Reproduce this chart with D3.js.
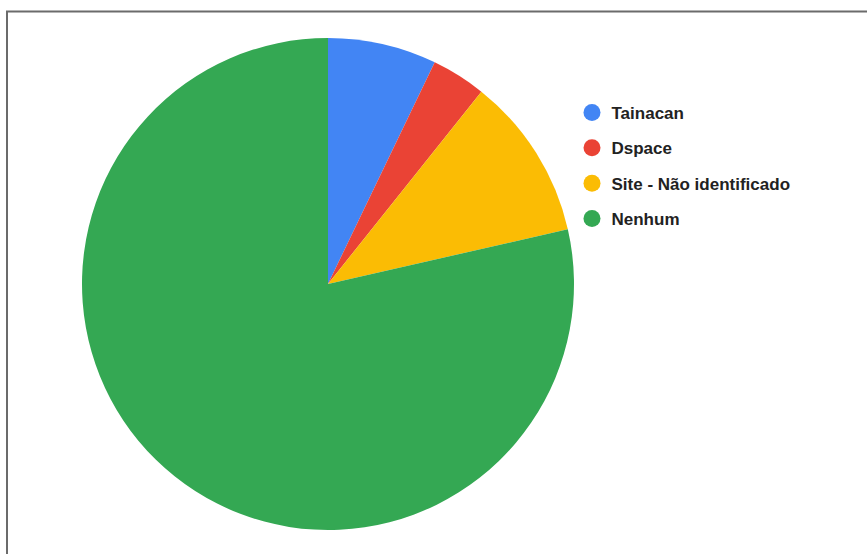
<!DOCTYPE html>
<html>
<head>
<meta charset="utf-8">
<script src="https://cdn.jsdelivr.net/npm/d3@7"></script>
<style>
  html, body { margin: 0; padding: 0; background: #fff; }
  #pie-chart { width: 867px; height: 554px; }
</style>
</head>
<body>
<div id="pie-chart"></div>
<script>
// Pie chart: repository platform in use
const categories = ['Tainacan', 'Dspace', 'Site - Não identificado', 'Nenhum'];
const counts = [2, 1, 3, 22];
const colors = ['#4285f4', '#ea4335', '#fbbc04', '#34a853'];

const W = 867, H = 554;
const cx = 328, cy = 284, radius = 246;

const svg = d3.select('#pie-chart')
  .append('svg')
  .attr('width', W)
  .attr('height', H);

// frame lines (left + top)
svg.append('path')
  .attr('d', `M7,${H} L7,11.5 L${W},11.5`)
  .attr('fill', 'none')
  .attr('stroke', '#6b6b6b')
  .attr('stroke-width', 2);

const data = categories.map((c, i) => ({name: c, value: counts[i], color: colors[i]}));

const pie = d3.pie()
  .value(d => d.value)
  .sort(null);

const arc = d3.arc()
  .innerRadius(0)
  .outerRadius(radius);

const g = svg.append('g')
  .attr('transform', `translate(${cx},${cy})`);

g.selectAll('path.slice')
  .data(pie(data))
  .enter()
  .append('path')
  .attr('class', 'slice')
  .attr('d', arc)
  .attr('fill', d => d.data.color);

// Legend
const legendY = d3.scalePoint()
  .domain(categories)
  .range([112.5, 218.5]);

const legend = svg.append('g')
  .attr('class', 'legend');

const items = legend.selectAll('g.item')
  .data(data)
  .enter()
  .append('g')
  .attr('class', 'item')
  .attr('transform', d => `translate(592,${legendY(d.name)})`);

items.append('circle')
  .attr('r', 8.5)
  .attr('fill', d => d.color);

items.append('text')
  .attr('x', 19.5)
  .attr('y', 6.5)
  .attr('font-family', 'Arial, "Liberation Sans", sans-serif')
  .attr('font-size', '17px')
  .attr('font-weight', '700')
  .attr('fill', '#222')
  .text(d => d.name);
</script>
</body>
</html>
